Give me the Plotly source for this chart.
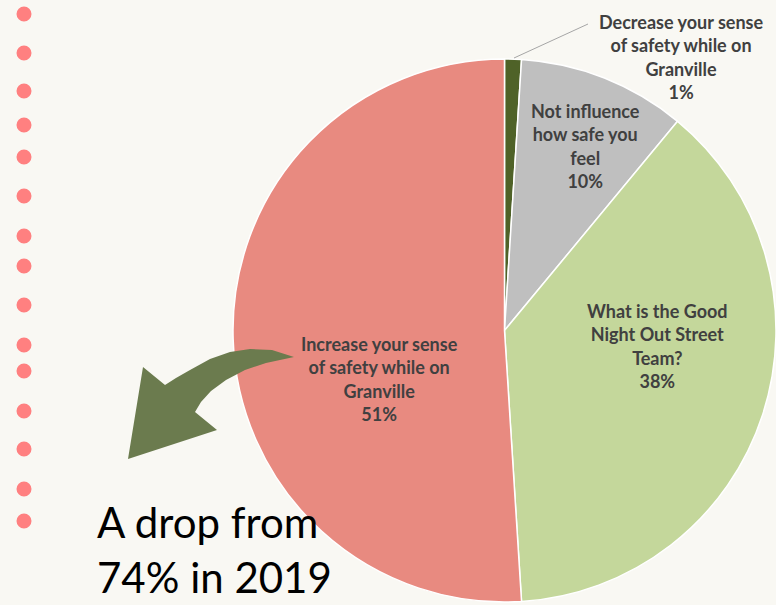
import plotly.graph_objects as go

# ---- data ----
labels = ["Decrease your sense of safety while on Granville",
          "Not influence how safe you feel",
          "What is the Good Night Out Street Team?",
          "Increase your sense of safety while on Granville"]
label_lines = [["Decrease your sense", "of safety while on", "Granville"],
               ["Not influence", "how safe you", "feel"],
               ["What is the Good", "Night Out Street", "Team?"],
               ["Increase your sense", "of safety while on", "Granville"]]
values = [1, 10, 38, 51]
colors = ["#4F6228", "#BFBFBF", "#C4D79B", "#E88A80"]
note_lines = ["A drop from", "74% in 2019"]

W, H = 776, 605
BG = "#F9F8F3"

def px(x):
    return x / W

def py(y):
    return 1 - y / H

fig = go.Figure()
fig.add_trace(go.Pie(
    labels=labels, values=values, sort=False, direction="clockwise", rotation=0,
    marker=dict(colors=colors, line=dict(color="white", width=1.5)),
    textinfo="none", hoverinfo="label+percent", showlegend=False,
    domain=dict(x=[233 / W, 1.0], y=[0.0, py(56)]),
))

# slice labels
label_pos = [(681, 57), (585, 146), (657, 346), (379, 379)]
annotations = []
for lines, v, (cx, cy) in zip(label_lines, values, label_pos):
    txt = "<br>".join(f"<b>{l}</b>" for l in lines) + f"<br><b>{v}%</b>"
    annotations.append(dict(
        x=px(cx), y=py(cy), xref="paper", yref="paper", text=txt, showarrow=False,
        align="center", xanchor="center", yanchor="middle",
        font=dict(family="Lato, Open Sans, sans-serif", size=18, color="#404040"),
    ))

# note text
for i, line in enumerate(note_lines):
    annotations.append(dict(
        x=px(95), y=py(522 + 55 * i), xref="paper", yref="paper", text=line,
        showarrow=False, xanchor="left", yanchor="middle",
        font=dict(family="Lato, Noto Sans, sans-serif", size=42, color="#000000"),
    ))

shapes = []
# leader line for the small slice
shapes.append(dict(type="line", xref="paper", yref="paper",
                   x0=px(514), y0=py(58), x1=px(588), y1=py(24),
                   line=dict(color="#A6A6A6", width=1)))

# decorative dots
dot_y_px = [14, 53, 91, 125, 157, 196, 236, 266, 305, 345, 371, 411, 449, 489, 521]
for yy in dot_y_px:
    r = 7.5
    shapes.append(dict(type="circle", xref="paper", yref="paper",
                       x0=px(24 - r), x1=px(24 + r), y0=py(yy + r), y1=py(yy - r),
                       fillcolor="#FF8080", line=dict(width=0)))

# curved arrow
arrow_px = [(294, 357), (272, 350), (250, 349), (230, 352), (210, 359), (190, 370),
            (176, 378), (165, 385), (143, 367), (128, 459), (217, 430), (195, 412),
            (201, 402), (211, 391), (226, 380), (245, 370), (266, 363), (294, 357)]
path = "M " + " L ".join(f"{px(x):.5f},{py(y):.5f}" for x, y in arrow_px) + " Z"
shapes.append(dict(type="path", xref="paper", yref="paper", path=path,
                   fillcolor="#6B7B4E", line=dict(width=0), layer="above"))

fig.update_layout(
    width=W, height=H, margin=dict(l=0, r=0, t=0, b=0),
    paper_bgcolor=BG, plot_bgcolor=BG,
    annotations=annotations, shapes=shapes,
)

fig.write_html(
    "out.html",
    config={"displayModeBar": False},
    post_script=f"document.body.style.margin='0px';document.body.style.background='{BG}';"
                "document.body.style.overflow='hidden';",
)
